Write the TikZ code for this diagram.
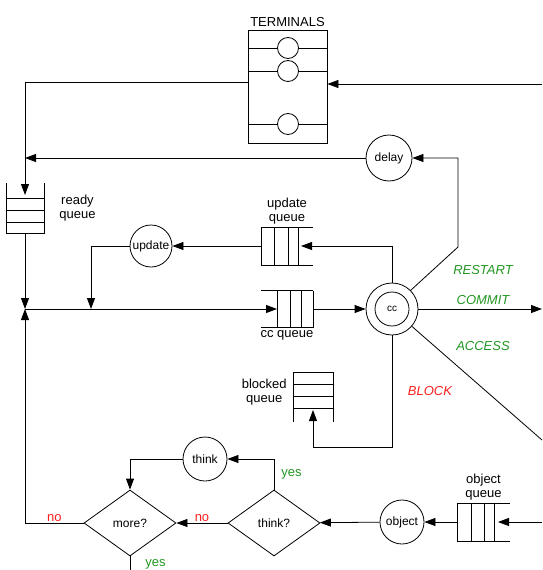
\documentclass[tikz,border=0pt]{standalone}
\usepackage{fontspec}
\setmainfont{Liberation Sans}
\usetikzlibrary{arrows.meta,positioning,calc,shapes.geometric}
\definecolor{labelgreen}{RGB}{34,150,34}
\definecolor{labelred}{RGB}{250,30,30}

\begin{document}
\begin{tikzpicture}[
    x=1pt, y=-1pt, line width=0.8pt,
    server/.style={circle, draw, minimum size=44pt, inner sep=0pt,
        font=\fontsize{12}{14}\selectfont},
    decision/.style={diamond, draw, minimum width=92pt, minimum height=66pt,
        inner sep=0pt, font=\fontsize{12}{14}\selectfont},
    queue/.style={inner sep=0pt, outer sep=0pt},
    qlabel/.style={font=\fontsize{13}{14}\selectfont, align=center, inner sep=1pt},
    flowlabel/.style={font=\fontsize{13}{15}\selectfont\itshape},
    yesno/.style={font=\fontsize{13}{15}\selectfont, inner sep=1pt},
    arrow/.style={-{Triangle[length=11pt,width=8pt]}}
]
\useasboundingbox (0,0) rectangle (542,570);

% terminals
\node[draw, minimum width=79pt, minimum height=113pt, inner sep=0pt] (terminals) at (287.5,86.5) {};
\node[qlabel, above=2pt of terminals] (termtitle) {TERMINALS};
\foreach \y/\n in {48/1,71/2,124/3} {
  \draw (terminals.west |- 0,\y) -- (terminals.east |- 0,\y);
  \node[circle, draw, fill=white, minimum size=21pt, inner sep=0pt] (term\n) at (288,\y) {};
}

% servers
\node[server, minimum size=46pt] (delay) at (389,158) {delay};
\node[server, minimum size=42pt] (update) at (151,246) {update};
\node[circle, draw, minimum size=52pt] (cc) at (392,309) {};
\node[circle, draw, minimum size=34pt, font=\fontsize{10}{12}\selectfont] (ccin) at (cc) {cc};
\node[server] (think) at (205,459) {think};
\node[server] (object) at (402,522) {object};
\node[decision] (moreq) at (130,523) {more?};
\node[decision] (thinkq) at (274,523) {think?};

% ready queue
\node[queue, minimum width=38pt, minimum height=50pt] (ready) at (25,208) {};
\draw (ready.north west) -- (ready.south west) -- (ready.south east) -- (ready.north east);
\foreach \y in {198,210,222} \draw (ready.west |- 0,\y) -- (ready.east |- 0,\y);
\node[qlabel, right=14pt of ready.east] (readylabel) {ready\\queue};

% update queue
\node[queue, minimum width=52pt, minimum height=38pt] (updq) at (287,246) {};
\draw (updq.north west) -- (updq.north east);
\draw (updq.south west) -- (updq.south east);
\foreach \x in {0,13,27,37} \draw ($(updq.north west)+(\x,0)$) -- ($(updq.south west)+(\x,0)$);
\node[qlabel, above=1pt of updq] (updqlabel) {update\\queue};

% cc queue
\node[queue, minimum width=52pt, minimum height=37pt] (ccq) at (287,309) {};
\draw (ccq.north west) -- (ccq.north east);
\draw (ccq.south west) -- (ccq.south east);
\foreach \x in {16,29,40,52} \draw ($(ccq.north west)+(\x,0)$) -- ($(ccq.south west)+(\x,0)$);
\node[qlabel, below=2pt of ccq] (ccqlabel) {cc queue};

% blocked queue
\node[queue, minimum width=40pt, minimum height=50pt] (blkq) at (313,397) {};
\draw (blkq.south west) -- (blkq.north west) -- (blkq.north east) -- (blkq.south east);
\foreach \y in {12,24,36} \draw ($(blkq.north west)+(0,\y)$) -- ($(blkq.north east)+(0,\y)$);
\node[qlabel, anchor=east] (blkqlabel) at ($(blkq.north west)+(-5,20)$) {blocked\\queue};

% object queue
\node[queue, minimum width=53pt, minimum height=38pt] (objq) at (483.5,522) {};
\draw (objq.north west) -- (objq.north east);
\draw (objq.south west) -- (objq.south east);
\foreach \x in {0,14,27,37} \draw ($(objq.north west)+(\x,0)$) -- ($(objq.south west)+(\x,0)$);
\node[qlabel, above=1pt of objq] (objqlabel) {object\\queue};

% free ends and joints
\coordinate (readyin) at ($(ready.north)+(0,12)$);
\coordinate (join) at (ready.south |- ccq);
\coordinate (updjoin) at (91,309);
\coordinate (restartbend) at (458,247);
\coordinate (commitout) at (542,309);
\coordinate (accessout) at (542,440);
\coordinate (blkin) at ($(blkq.south)+(0,-12)$);
\coordinate (termin) at (542,84);
\coordinate (objin) at (542,522);
\coordinate (moreout) at (130,570);

% connectors
\draw[arrow] ($(terminals.west)+(0,-4)$) -| (readyin);
\draw[arrow] (termin) -- (termin -| terminals.east);
\draw[arrow] (delay) -- (delay -| ready);
\draw[arrow] (ready.south) -- (join);
\draw[arrow] (join) -- ($(ccq.west)+(16,0)$);
\draw[arrow] (ccq.east) -- (cc);
\draw[arrow] (cc) |- ($(updq.east)+(-12,0)$);
\draw[arrow] (updq.west) -- (update);
\draw[arrow] (update) -| (updjoin);
\draw[arrow] (cc.north east) -- (restartbend) |- (delay);
\draw[arrow] (cc) -- (commitout);
\draw (cc) -- (accessout);
\draw[arrow] (cc) -- (cc |- 0,447) -| (blkin);
\draw[arrow] (objin) -- ($(objq.west)+(41,0)$);
\draw[arrow] (objq.west) -- (object);
\draw[arrow] (object) -- (thinkq);
\draw[arrow] (thinkq) -- node[yesno, above, labelred] {no} (moreq);
\draw[arrow] (thinkq.north) |- node[yesno, pos=0.25, right=6pt, labelgreen] {yes} (think);
\draw[arrow] (think) -| (moreq.north);
\draw[arrow] (moreq) -| node[yesno, pos=0.25, above, labelred] {no} (join);
\draw (moreq.south) -- node[yesno, pos=0.6, right=14pt, labelgreen] {yes} (moreout);

% flow labels
\node[flowlabel, labelgreen] (restartlabel) at (483,270) {RESTART};
\node[flowlabel, labelgreen] (commitlabel) at (483,300) {COMMIT};
\node[flowlabel, labelgreen] (accesslabel) at (483,346) {ACCESS};
\node[flowlabel, labelred] (blocklabel) at (430,391) {BLOCK};
\end{tikzpicture}
\end{document}
